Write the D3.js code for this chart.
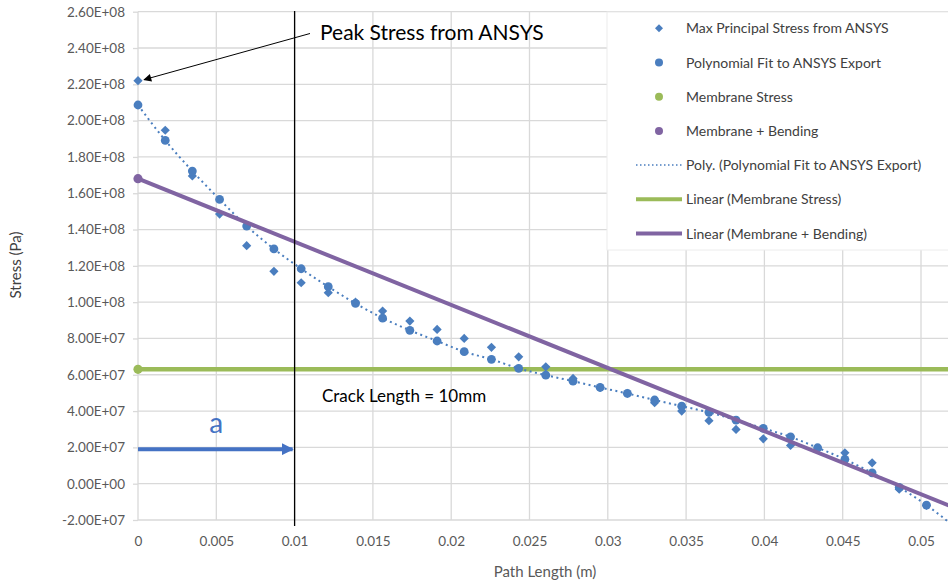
<!DOCTYPE html>
<html>
<head>
<meta charset="utf-8">
<script src="https://cdn.jsdelivr.net/npm/d3@7"></script>
<style>
  body { margin: 0; background: #fff; overflow: hidden; }
  svg text { font-family: Lato, "Liberation Sans", sans-serif; }
</style>
</head>
<body>
<svg id="chart" width="948" height="588"></svg>
<script>
// Path positions along the crack path (m)
const pathLength = [0, 0.00174, 0.00347, 0.00521, 0.00694, 0.00868, 0.01042, 0.01215, 0.01389, 0.01562,
  0.01736, 0.01910, 0.02083, 0.02257, 0.02431, 0.02604, 0.02778, 0.02951, 0.03125, 0.03299,
  0.03472, 0.03646, 0.03819, 0.03993, 0.04167, 0.04340, 0.04514, 0.04688, 0.04861, 0.05035, 0.05208];

// Max principal stress from ANSYS (Pa)
const ansysStress = [2.22e8, 1.947e8, 1.695e8, 1.485e8, 1.311e8, 1.170e8, 1.107e8, 1.052e8, 1.00e8, 0.951e8,
  0.896e8, 0.850e8, 0.800e8, 0.751e8, 0.699e8, 0.644e8, 0.580e8, 0.530e8, 0.497e8, 0.446e8,
  0.400e8, 0.347e8, 0.299e8, 0.247e8, 0.211e8, 0.190e8, 0.170e8, 0.115e8, -0.030e8, -0.120e8];

// Polynomial fit to ANSYS export (Pa)
const fitStress = [2.086e8, 1.891e8, 1.722e8, 1.566e8, 1.419e8, 1.293e8, 1.184e8, 1.085e8, 0.993e8, 0.912e8,
  0.845e8, 0.786e8, 0.727e8, 0.685e8, 0.635e8, 0.598e8, 0.565e8, 0.530e8, 0.497e8, 0.461e8,
  0.427e8, 0.393e8, 0.350e8, 0.305e8, 0.258e8, 0.198e8, 0.134e8, 0.060e8, -0.020e8, -0.118e8, -0.233e8];

// Two-point series for the linearised stresses
const linearX = [0, 0.05208];
const membraneStress = [6.30e7, 6.30e7];
const membraneBending = [1.68e8, -1.30e7];

const xTicks = [0, 0.005, 0.01, 0.015, 0.02, 0.025, 0.03, 0.035, 0.04, 0.045, 0.05];
const yTicks = [-2e7, 0, 2e7, 4e7, 6e7, 8e7, 1e8, 1.2e8, 1.4e8, 1.6e8, 1.8e8, 2e8, 2.2e8, 2.4e8, 2.6e8];

const legendLabels = ["Max Principal Stress from ANSYS", "Polynomial Fit to ANSYS Export", "Membrane Stress",
  "Membrane + Bending", "Poly. (Polynomial Fit to ANSYS Export)", "Linear (Membrane Stress)", "Linear (Membrane + Bending)"];

const crackLength = 0.01;
const aArrowStress = 1.9e7;

const BLUE = "#4a7ebf", GREEN = "#9bbb59", PURPLE = "#8064a2", GRID = "#d9d9d9", TICK_TEXT = "#595959";

const svg = d3.select("#chart");

// scales: the chart image is cut at the right edge, so the range runs past 948
const xScale = d3.scaleLinear().domain([0, 0.055]).range([138, 138 + 11 * 78.3]);
const yScale = d3.scaleLinear().domain([-2e7, 2.6e8]).range([520, 11.7]);

function sciFormat(v) {
  let s = d3.format(".2e")(v).toUpperCase().replace("\u2212", "-");   // e.g. 2.60E+8
  let parts = s.split("E");
  let sign = parts[1][0];
  let exp = parts[1].slice(1).padStart(2, "0");
  return parts[0] + "E" + sign + exp;
}

// grid
const grid = svg.append("g");
grid.selectAll(".hgrid").data(yTicks).enter().append("line")
  .attr("x1", xScale(0)).attr("x2", 948)
  .attr("y1", d => yScale(d)).attr("y2", d => yScale(d))
  .attr("stroke", GRID).attr("stroke-width", 1.3);
grid.selectAll(".vgrid").data(xTicks).enter().append("line")
  .attr("x1", d => xScale(d)).attr("x2", d => xScale(d))
  .attr("y1", yScale(2.6e8)).attr("y2", yScale(-2e7))
  .attr("stroke", GRID).attr("stroke-width", 1.3);

// axes
const yAxis = d3.axisLeft(yScale).tickValues(yTicks).tickFormat(sciFormat).tickSize(5).tickPadding(8);
svg.append("g").attr("transform", `translate(${xScale(0)},0)`).call(yAxis)
  .call(g => g.select(".domain").remove())
  .call(g => g.selectAll("line").attr("stroke", GRID).attr("stroke-width", 1.3))
  .call(g => g.selectAll("text").attr("fill", TICK_TEXT).style("font-size", "13.5px"));

const xAxis = d3.axisBottom(xScale).tickValues(xTicks).tickFormat(d => d3.format("")(+d.toFixed(3))).tickSize(0).tickPadding(16);
svg.append("g").attr("transform", `translate(0,${yScale(-2e7)})`).call(xAxis)
  .call(g => g.select(".domain").remove())
  .call(g => g.selectAll("text").attr("fill", TICK_TEXT).style("font-size", "13.5px"));

svg.append("text").attr("x", 545).attr("y", 577).attr("text-anchor", "middle")
  .attr("fill", TICK_TEXT).style("font-size", "15px").text("Path Length (m)");
svg.append("text").attr("transform", "translate(21,265) rotate(-90)").attr("text-anchor", "middle")
  .attr("fill", "#404040").style("font-size", "15px").text("Stress (Pa)");

// clip for the data
svg.append("clipPath").attr("id", "plotClip").append("rect")
  .attr("x", 128).attr("y", 0).attr("width", 830).attr("height", 522);
const plot = svg.append("g").attr("clip-path", "url(#plotClip)");

// linear trendlines
function linearLine(ys) {
  let slope = (ys[1] - ys[0]) / (linearX[1] - linearX[0]);
  let x0 = 0, x1 = 0.055;
  return [[x0, ys[0] + slope * (x0 - linearX[0])], [x1, ys[0] + slope * (x1 - linearX[0])]];
}
const straight = d3.line().x(d => xScale(d[0])).y(d => yScale(d[1]));

plot.append("path").attr("d", straight(linearLine(membraneStress)))
  .attr("stroke", GREEN).attr("stroke-width", 4.5).attr("fill", "none");

// polynomial trendline through the fit
const fitPts = fitStress.map((v, i) => [pathLength[i], v]);
plot.append("path").attr("d", d3.line().x(d => xScale(d[0])).y(d => yScale(d[1])).curve(d3.curveMonotoneX)(fitPts))
  .attr("stroke", BLUE).attr("stroke-width", 2).attr("stroke-dasharray", "2,3.5").attr("fill", "none");

// ANSYS diamonds
const diamond = r => `M0,${-r}L${r},0L0,${r}L${-r},0Z`;
plot.selectAll(".ansys").data(ansysStress).enter().append("path")
  .attr("d", diamond(4.6))
  .attr("transform", (d, i) => `translate(${xScale(pathLength[i])},${yScale(d)})`)
  .attr("fill", BLUE);

// fit circles
plot.selectAll(".fit").data(fitPts).enter().append("circle")
  .attr("cx", d => xScale(d[0])).attr("cy", d => yScale(d[1])).attr("r", 4.4)
  .attr("fill", BLUE);

plot.append("path").attr("d", straight(linearLine(membraneBending)))
  .attr("stroke", PURPLE).attr("stroke-width", 4).attr("fill", "none");

plot.selectAll(".mem").data(membraneStress).enter().append("circle")
  .attr("cx", (d, i) => xScale(linearX[i])).attr("cy", d => yScale(d)).attr("r", 4.6).attr("fill", GREEN);
plot.selectAll(".memb").data(membraneBending).enter().append("circle")
  .attr("cx", (d, i) => xScale(linearX[i])).attr("cy", d => yScale(d)).attr("r", 4.6).attr("fill", PURPLE);

// crack length marker
svg.append("line")
  .attr("x1", xScale(crackLength)).attr("x2", xScale(crackLength))
  .attr("y1", 11).attr("y2", 526)
  .attr("stroke", "#000").attr("stroke-width", 1.3);

// arrow heads
const defs = svg.append("defs");
defs.append("marker").attr("id", "headBlack").attr("viewBox", "0 0 10 10").attr("refX", 9).attr("refY", 5)
  .attr("markerWidth", 12).attr("markerHeight", 8).attr("markerUnits", "userSpaceOnUse").attr("orient", "auto")
  .append("path").attr("d", "M0,0L10,5L0,10Z").attr("fill", "#000");
defs.append("marker").attr("id", "headBlue").attr("viewBox", "0 0 10 10").attr("refX", 9).attr("refY", 5)
  .attr("markerWidth", 3).attr("markerHeight", 3).attr("orient", "auto")
  .append("path").attr("d", "M0,0L10,5L0,10Z").attr("fill", "#4472c4");

// "a" arrow
svg.append("line")
  .attr("x1", xScale(0)).attr("x2", xScale(crackLength) - 2)
  .attr("y1", yScale(aArrowStress)).attr("y2", yScale(aArrowStress))
  .attr("stroke", "#4472c4").attr("stroke-width", 4).attr("marker-end", "url(#headBlue)");
svg.append("text").attr("x", xScale(0.005)).attr("y", 433).attr("text-anchor", "middle")
  .attr("fill", "#4472c4").style("font-size", "28px").text("a");

// peak annotation
svg.append("line")
  .attr("x1", 310).attr("y1", 33.5)
  .attr("x2", xScale(0) + 6).attr("y2", yScale(ansysStress[0]) - 1)
  .attr("stroke", "#000").attr("stroke-width", 1).attr("marker-end", "url(#headBlack)");
svg.append("text").attr("x", 320).attr("y", 40)
  .attr("fill", "#000").style("font-size", "21px").text("Peak Stress from ANSYS");

svg.append("text").attr("x", 322).attr("y", 402)
  .attr("fill", "#000").style("font-size", "17px").text("Crack Length = 10mm");

// legend
const legend = svg.append("g");
legend.append("rect").attr("x", 607).attr("y", 12).attr("width", 360).attr("height", 238)
  .attr("fill", "#fff").attr("stroke", "#ececec");
const rows = legend.selectAll(".row").data(legendLabels).enter().append("g")
  .attr("transform", (d, i) => `translate(0,${28.3 + i * 34.2})`);
rows.append("text").attr("x", 686).attr("y", 5).attr("fill", "#404040").style("font-size", "14px").text(d => d);
rows.each(function(d, i) {
  let g = d3.select(this);
  if (i === 0) g.append("path").attr("d", diamond(4)).attr("transform", "translate(659,0)").attr("fill", BLUE);
  else if (i < 4) g.append("circle").attr("cx", 659).attr("cy", 0).attr("r", 4).attr("fill", [null, BLUE, GREEN, PURPLE][i]);
  else {
    let line = g.append("line").attr("x1", 636).attr("x2", 682).attr("y1", 0).attr("y2", 0);
    if (i === 4) line.attr("stroke", BLUE).attr("stroke-width", 1.5).attr("stroke-dasharray", "1.5,2.5");
    if (i === 5) line.attr("stroke", GREEN).attr("stroke-width", 4);
    if (i === 6) line.attr("stroke", PURPLE).attr("stroke-width", 4);
  }
});
</script>
</body>
</html>
